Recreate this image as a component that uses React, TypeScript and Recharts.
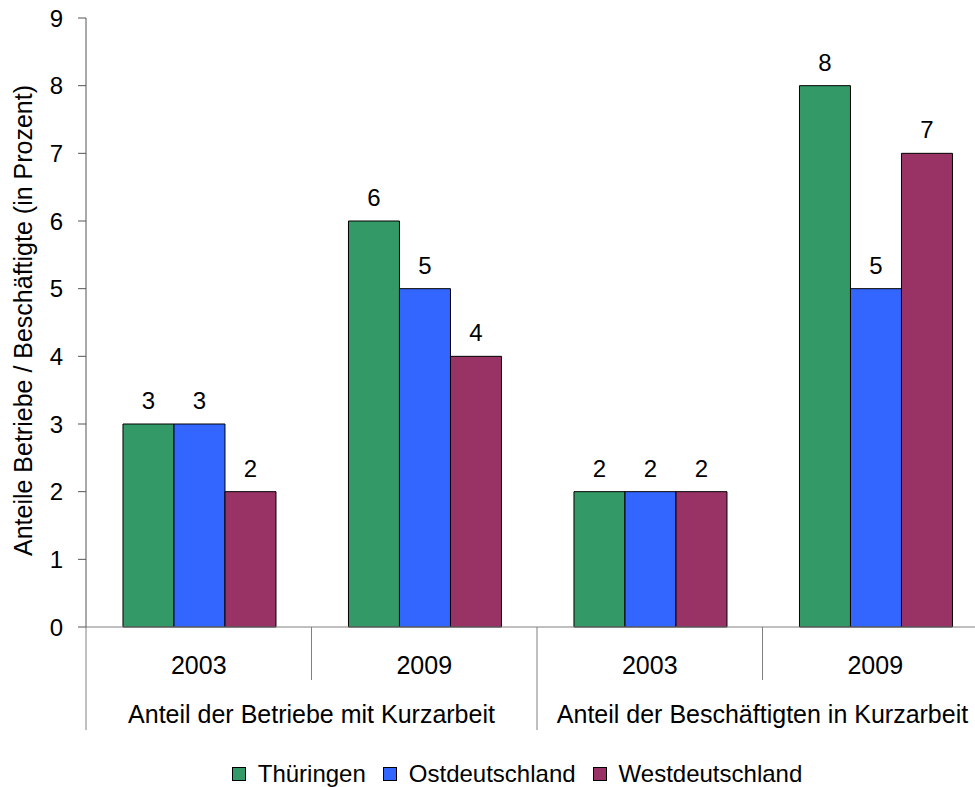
import React from 'react'
import { BarChart, Bar, XAxis, YAxis, Legend, LabelList, Label } from 'recharts'

const years = ['2003', '2009', '2003', '2009']
const groups = [
  'Anteil der Betriebe mit Kurzarbeit',
  'Anteil der Betriebe mit Kurzarbeit',
  'Anteil der Beschäftigten in Kurzarbeit',
  'Anteil der Beschäftigten in Kurzarbeit'
]
const thueringen = [3, 6, 2, 8]
const ostdeutschland = [3, 5, 2, 5]
const westdeutschland = [2, 4, 2, 7]
const yTicks = [0, 1, 2, 3, 4, 5, 6, 7, 8, 9]

const series = [
  { key: 'thueringen', name: 'Thüringen', color: '#339966' },
  { key: 'ost', name: 'Ostdeutschland', color: '#3366ff' },
  { key: 'west', name: 'Westdeutschland', color: '#993366' }
]

const data = years.map((year, i) => ({
  year,
  group: groups[i],
  thueringen: thueringen[i],
  ost: ostdeutschland[i],
  west: westdeutschland[i]
}))

const FONT = '"Liberation Sans", Arial, sans-serif'
const CHART_W = 1000
const CHART_H = 787
const MARGIN = { top: 18, right: 12, left: 0, bottom: 0 }
const Y_AXIS_W = 86
const HALF_BAND = (CHART_W - Y_AXIS_W - MARGIN.left - MARGIN.right) / years.length / 2

// two-level category axis: year + group label with separators
const CategoryTick = (props: any) => {
  const { x, y, payload, index } = props
  const isGroupStart = index % 2 === 0
  const left = x - HALF_BAND
  return (
    <g>
      <line
        x1={left}
        y1={y}
        x2={left}
        y2={y + (isGroupStart ? 103 : 53)}
        stroke="#808080"
        strokeWidth={1}
      />
      <text x={x} y={y + 47} textAnchor="middle" fontSize={25} fontFamily={FONT} fill="#000">
        {payload.value}
      </text>
      {isGroupStart && (
        <text
          x={x + HALF_BAND}
          y={y + 96}
          textAnchor="middle"
          fontSize={25}
          fontFamily={FONT}
          fill="#000"
        >
          {groups[index]}
        </text>
      )}
    </g>
  )
}

const YLabelContent = (props: any) => {
  const { viewBox } = props
  const cx = viewBox.x + 23
  const cy = viewBox.y + viewBox.height / 2 - 2
  return (
    <text
      x={cx}
      y={cy}
      transform={`rotate(-90, ${cx}, ${cy})`}
      textAnchor="middle"
      dominantBaseline="central"
      fontSize={25}
      fontFamily={FONT}
      fill="#000"
    >
      Anteile Betriebe / Beschäftigte (in Prozent)
    </text>
  )
}

const LegendContent = () => (
  <div
    style={{
      height: 48,
      boxSizing: 'border-box',
      paddingTop: 23,
      paddingLeft: 46,
      display: 'flex',
      justifyContent: 'center',
      fontFamily: FONT,
      fontSize: 24,
      lineHeight: '24px',
      color: '#000'
    }}
  >
    {series.map((s, i) => (
      <div
        key={s.key}
        style={{ display: 'flex', alignItems: 'center', marginLeft: i === 0 ? 0 : 17, height: 24 }}
      >
        <span
          style={{
            width: 14,
            height: 14,
            boxSizing: 'border-box',
            background: s.color,
            border: '1px solid #000',
            marginRight: 12,
            display: 'inline-block'
          }}
        />
        <span>{s.name}</span>
      </div>
    ))}
  </div>
)

export default function App() {
  return (
    <div
      style={{
        position: 'fixed',
        left: 0,
        top: 0,
        width: 975,
        height: 787,
        overflow: 'hidden',
        background: '#fff'
      }}
    >
      <BarChart
        width={CHART_W}
        height={CHART_H}
        data={data}
        margin={MARGIN}
        barGap={0}
        barCategoryGap="16.4%"
      >
        <XAxis
          dataKey="year"
          height={112}
          tickLine={false}
          tickSize={0}
          tickMargin={0}
          interval={0}
          axisLine={{ stroke: '#808080', strokeWidth: 1 }}
          tick={<CategoryTick />}
        />
        <YAxis
          width={Y_AXIS_W}
          domain={[0, 9]}
          ticks={yTicks}
          interval={0}
          tickSize={8}
          tickMargin={15}
          axisLine={{ stroke: '#555', strokeWidth: 1 }}
          tickLine={{ stroke: '#555', strokeWidth: 1 }}
          tick={{ fontSize: 24, fontFamily: FONT, fill: '#000' }}
        >
          <Label content={<YLabelContent />} />
        </YAxis>
        <Legend verticalAlign="bottom" content={<LegendContent />} />
        {series.map((s) => (
          <Bar
            key={s.key}
            dataKey={s.key}
            name={s.name}
            fill={s.color}
            stroke="#000"
            strokeWidth={1}
            isAnimationActive={false}
          >
            <LabelList
              dataKey={s.key}
              position="top"
              offset={15}
              fontSize={24}
              fontFamily={FONT}
              fill="#000"
            />
          </Bar>
        ))}
      </BarChart>
    </div>
  )
}
